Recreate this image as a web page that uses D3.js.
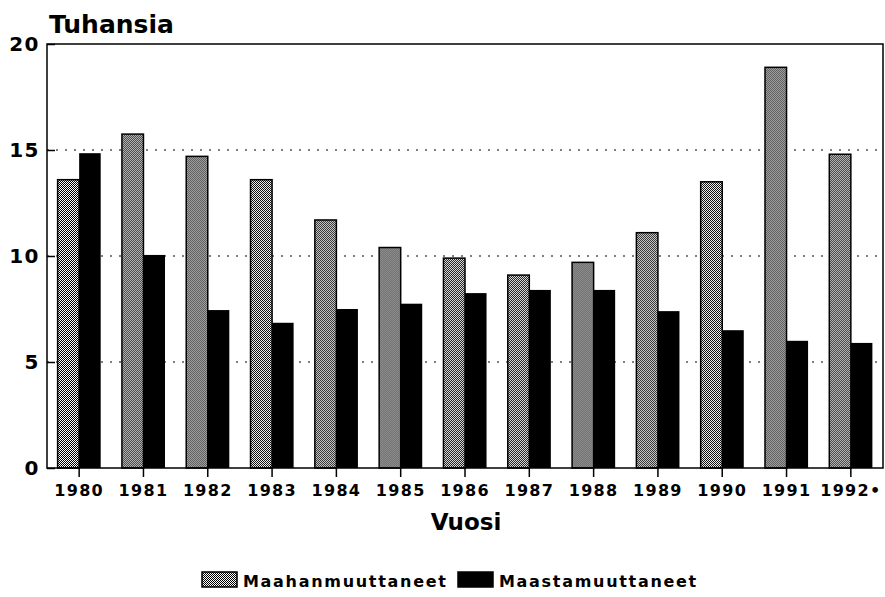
<!DOCTYPE html>
<html>
<head>
<meta charset="utf-8">
<script src="https://cdn.jsdelivr.net/npm/d3@7"></script>
<style>
  body { margin: 0; background: #fff; }
  svg text { font-family: "DejaVu Sans", sans-serif; font-weight: bold; fill: #000; }
</style>
</head>
<body>
<div id="chart"></div>
<script>
// data (thousands of people)
var years = ['1980','1981','1982','1983','1984','1985','1986','1987','1988','1989','1990','1991','1992\u2022'];
var maahan = [13.6, 15.75, 14.7, 13.6, 11.7, 10.4, 9.9, 9.1, 9.7, 11.1, 13.5, 18.9, 14.8];
var maasta = [14.85, 10.05, 7.45, 6.85, 7.5, 7.75, 8.25, 8.4, 8.4, 7.4, 6.5, 6.0, 5.9];
var seriesNames = ['Maahanmuuttaneet', 'Maastamuuttaneet'];
var yTicks = [0, 5, 10, 15, 20];

var W = 885, H = 597;
var margin = {top: 44, right: 2, bottom: 129, left: 47};
var width = W - margin.left - margin.right,
    height = H - margin.top - margin.bottom;

var svg = d3.select('#chart').append('svg')
    .attr('width', W)
    .attr('height', H);

// checker pattern for the light bars
var defs = svg.append('defs');
var pat = defs.append('pattern')
    .attr('id', 'checker')
    .attr('width', 2).attr('height', 2)
    .attr('patternUnits', 'userSpaceOnUse');
pat.append('rect').attr('width', 2).attr('height', 2).attr('fill', '#fff');
pat.append('rect').attr('x', 0).attr('y', 0).attr('width', 1).attr('height', 1).attr('fill', '#000');
pat.append('rect').attr('x', 1).attr('y', 1).attr('width', 1).attr('height', 1).attr('fill', '#000');

var g = svg.append('g').attr('transform', 'translate(' + margin.left + ',' + margin.top + ')');

// scales
var x = d3.scaleBand().domain(years).range([0, width]);
var xInner = d3.scaleBand().domain([0, 1]).range([x.bandwidth() * 0.165, x.bandwidth() * 0.835]);
var y = d3.scaleLinear().domain([0, 20]).range([height, 0]);

// dotted gridlines
g.selectAll('.grid').data(yTicks.filter(function(d) { return d > 0 && d < 20; }))
  .enter().append('line')
    .attr('x1', 0).attr('x2', width)
    .attr('y1', function(d) { return y(d); })
    .attr('y2', function(d) { return y(d); })
    .attr('stroke', '#000')
    .attr('stroke-width', 1.2)
    .attr('stroke-dasharray', '2,7');

// bars
var grp = g.selectAll('.year').data(years).enter().append('g')
    .attr('transform', function(d) { return 'translate(' + x(d) + ',0)'; });

grp.append('rect')
    .attr('x', xInner(0))
    .attr('width', xInner.bandwidth())
    .attr('y', function(d, i) { return y(maahan[i]); })
    .attr('height', function(d, i) { return height - y(maahan[i]); })
    .attr('fill', 'url(#checker)')
    .attr('stroke', '#000')
    .attr('stroke-width', 1.5);

grp.append('rect')
    .attr('x', xInner(1))
    .attr('width', xInner.bandwidth())
    .attr('y', function(d, i) { return y(maasta[i]); })
    .attr('height', function(d, i) { return height - y(maasta[i]); })
    .attr('fill', '#000');

// frame
g.append('rect')
    .attr('width', width).attr('height', height)
    .attr('fill', 'none')
    .attr('stroke', '#000')
    .attr('stroke-width', 1.5);

// y axis
var yAxis = d3.axisLeft(y).tickValues(yTicks).tickSize(-8).tickPadding(7);
var ya = g.append('g').call(yAxis);
ya.select('.domain').remove();
ya.selectAll('line').attr('stroke-width', 1.5);
ya.selectAll('text').style('font-size', '20px').style('letter-spacing', '1.5px')
    .style('font-family', '"DejaVu Sans", sans-serif').style('font-weight', 'bold');

// x axis
var xAxis = d3.axisBottom(x).tickSize(9).tickPadding(8);
var xa = g.append('g').attr('transform', 'translate(0,' + height + ')').call(xAxis);
xa.select('.domain').remove();
xa.selectAll('line').attr('stroke-width', 1.5);
xa.selectAll('text').style('font-size', '16px').style('letter-spacing', '1.3px')
    .style('font-family', '"DejaVu Sans", sans-serif').style('font-weight', 'bold');

// titles
svg.append('text').attr('x', 49).attr('y', 33).style('font-size', '25px').text('Tuhansia');
svg.append('text').attr('x', 466).attr('y', 530).attr('text-anchor', 'middle')
    .style('font-size', '23px').text('Vuosi');

// legend
var legend = svg.append('g').attr('transform', 'translate(202,572)');
var lx = [0, 256];
legend.selectAll('rect').data(seriesNames).enter().append('rect')
    .attr('x', function(d, i) { return lx[i]; })
    .attr('y', 0)
    .attr('width', 35)
    .attr('height', 15)
    .attr('fill', function(d, i) { return i ? '#000' : 'url(#checker)'; })
    .attr('stroke', '#000')
    .attr('stroke-width', 1.5);
legend.selectAll('text').data(seriesNames).enter().append('text')
    .attr('x', function(d, i) { return lx[i] + 41; })
    .attr('y', 15)
    .style('font-size', '16px')
    .style('letter-spacing', '1.7px')
    .text(function(d) { return d; });
</script>
</body>
</html>
